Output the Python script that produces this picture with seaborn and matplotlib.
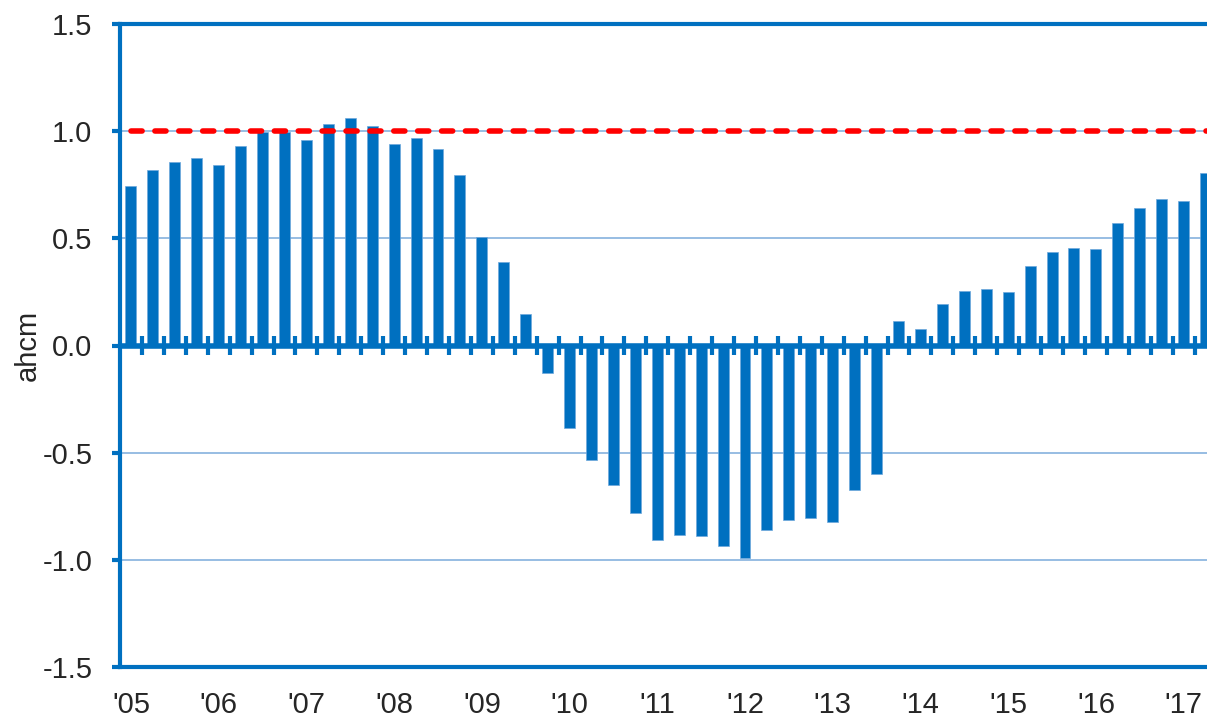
import matplotlib
matplotlib.use('Agg')
import matplotlib.pyplot as plt
import seaborn as sns
import numpy as np
import pandas as pd

sns.set_style('white')
plt.rcParams['font.family'] = ['Liberation Sans', 'DejaVu Sans']

# ---- data ----
quarters = [f"{y}Q{q}" for y in range(2005, 2018) for q in range(1, 5)][:50]
values = [0.746, 0.819, 0.858, 0.876, 0.841, 0.932, 0.995, 0.998,
          0.957, 1.035, 1.063, 1.026, 0.940, 0.967, 0.918, 0.796,
          0.508, 0.388, 0.147, -0.130, -0.386, -0.534, -0.651, -0.783,
          -0.908, -0.884, -0.887, -0.936, -0.990, -0.862, -0.813, -0.803,
          -0.825, -0.674, -0.601, 0.114, 0.078, 0.194, 0.253, 0.262,
          0.248, 0.370, 0.436, 0.453, 0.449, 0.570, 0.643, 0.685,
          0.673, 0.806]
year_labels = ["'05", "'06", "'07", "'08", "'09", "'10", "'11", "'12",
               "'13", "'14", "'15", "'16", "'17"]
ytick_values = [-1.5, -1.0, -0.5, 0.0, 0.5, 1.0, 1.5]
grid_values = [-1.0, -0.5, 0.5, 1.0]
threshold = 1.0
y_label = "ahcm"

BLUE = '#0070C0'
GRID = '#8FB8E0'

fig = plt.figure(figsize=(12.07, 7.19), dpi=100)
ax = fig.add_axes([120 / 1207, 52 / 719, 1096.5 / 1207, 643 / 719])

df = pd.DataFrame({'quarter': quarters, 'value': values})
sns.barplot(data=df, x='quarter', y='value', color=BLUE, saturation=1,
            width=0.5, ax=ax, zorder=2, edgecolor='#6FA8DC', linewidth=0.5)

n = len(quarters)
ax.set_xlim(-0.5, n - 0.5)
ax.set_ylim(-1.5, 1.5)
ax.set_yticks(ytick_values)
ax.set_yticklabels([f"{v:.1f}" for v in ytick_values])
ax.set_xticks(range(0, n, 4))
ax.set_xticklabels(year_labels)

for v in grid_values:
    ax.axhline(v, color=GRID, lw=1.3, zorder=1)

ax.axhline(threshold, xmin=0.01, color='red', lw=4, ls=(0, (2, 2.3)),
           dash_capstyle='round', zorder=4)
ax.axhline(0, color=BLUE, lw=4, zorder=3)
ax.vlines(np.arange(0.5, n), -0.044, 0.044, color=BLUE, lw=3, zorder=3)

for side in ['top', 'left', 'bottom']:
    ax.spines[side].set_visible(True)
    ax.spines[side].set_color(BLUE)
    ax.spines[side].set_linewidth(3)
ax.spines['right'].set_visible(False)

ax.tick_params(axis='y', direction='out', length=5.8, width=3, color=BLUE,
               pad=14, labelsize=21, left=True)
ax.tick_params(axis='x', length=0, pad=17.5, labelsize=21)
ax.set_xlabel('')
ax.set_ylabel(y_label, fontsize=21)
ax.yaxis.set_label_coords(-0.071, 0.5)

fig.savefig('out.png', dpi=100)
